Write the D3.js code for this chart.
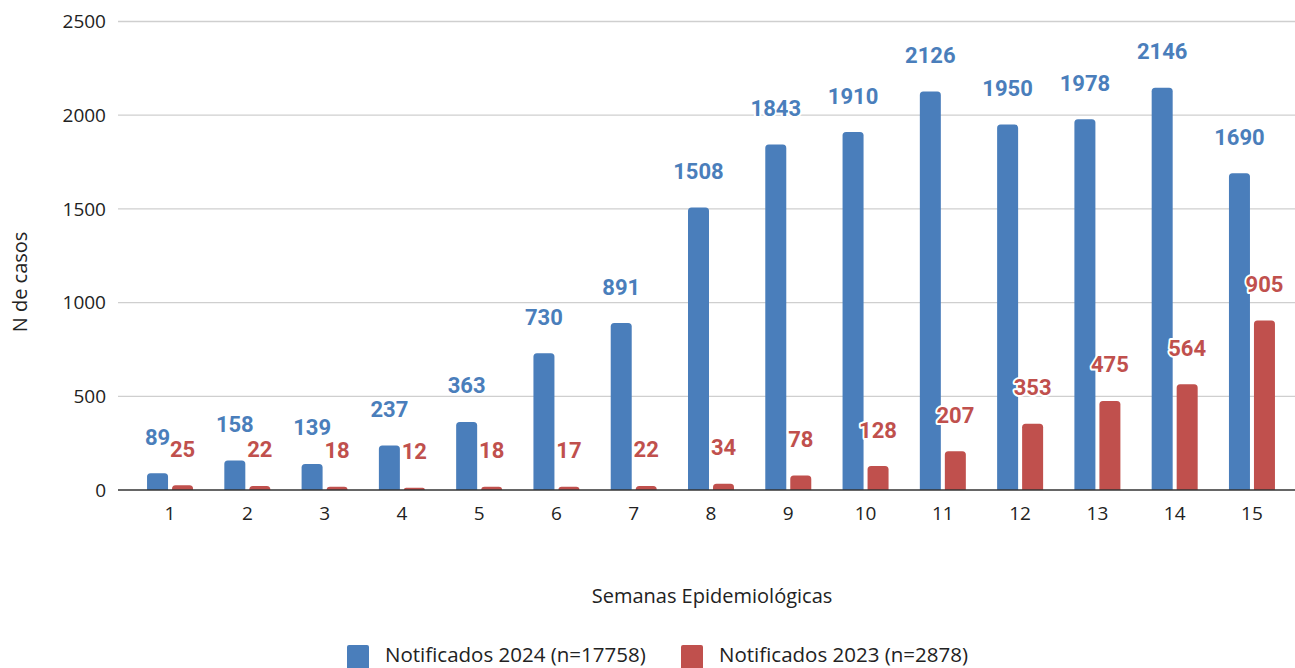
<!DOCTYPE html>
<html><head><meta charset="utf-8">
<script src="https://cdn.jsdelivr.net/npm/d3@7"></script>
<style>
html,body{margin:0;padding:0;background:#fff;}
svg{display:block;}
</style></head>
<body>
<svg id="chart" width="1295" height="668"></svg>
<script>
const weeks = ["1","2","3","4","5","6","7","8","9","10","11","12","13","14","15"];
const values2024 = [89,158,139,237,363,730,891,1508,1843,1910,2126,1950,1978,2146,1690];
const values2023 = [25,22,18,12,18,17,22,34,78,128,207,353,475,564,905];
const seriesNames = ["Notificados 2024 (n=17758)", "Notificados 2023 (n=2878)"];
const yTicks = [0,500,1000,1500,2000,2500];
const colors = ["#4a7ebb", "#c0504d"];

const svg = d3.select("#chart");
const plotL = 118, plotR = 1295, y0 = 490, yTop = 21.5;

const x = d3.scaleBand().domain(weeks).range([131.4, 1290.6]);
const y = d3.scaleLinear().domain([0, 2500]).range([y0, yTop]);
const barW = 21, gap = 4;

// gridlines
svg.append("g").selectAll("line").data(yTicks.filter(t => t > 0)).join("line")
  .attr("x1", plotL).attr("x2", plotR)
  .attr("y1", d => y(d)).attr("y2", d => y(d))
  .attr("stroke", "#cfcfcf").attr("stroke-width", 1.3);

// y tick labels
svg.append("g").selectAll("text").data(yTicks).join("text")
  .attr("x", 106).attr("y", d => y(d)).attr("dy", "0.36em")
  .attr("text-anchor", "end")
  .attr("font-family", "'Open Sans', sans-serif").attr("font-size", 19)
  .attr("fill", "#222").text(d => d);

function topRounded(xp, yp, w, h, r) {
  r = Math.min(r, h, w/2);
  return `M${xp},${yp+h}V${yp+r}Q${xp},${yp} ${xp+r},${yp}H${xp+w-r}Q${xp+w},${yp} ${xp+w},${yp+r}V${yp+h}Z`;
}
const series = [values2024, values2023];
series.forEach((vals, si) => {
  const off = si === 0 ? -(barW + gap/2) : gap/2;
  svg.append("g").selectAll("path").data(vals).join("path")
    .attr("d", (d, i) => {
      const cx = x(weeks[i]) + x.bandwidth()/2;
      return topRounded(cx + off, y(d), barW, y0 - y(d), 3.5);
    })
    .attr("fill", colors[si]);
});

// axis line
svg.append("line").attr("x1", plotL).attr("x2", plotR).attr("y1", y0).attr("y2", y0)
  .attr("stroke", "#333").attr("stroke-width", 1.5);

// data labels
series.forEach((vals, si) => {
  const off = si === 0 ? -(barW/2 + gap/2) : (barW/2 + gap/2);
  svg.append("g").selectAll("text").data(vals).join("text")
    .attr("x", (d, i) => x(weeks[i]) + x.bandwidth()/2 + off)
    .attr("y", d => y(d) - 28.5)
    .attr("text-anchor", "middle")
    .attr("font-family", "Roboto, sans-serif").attr("font-weight", 700).attr("font-size", 22)
    .attr("fill", colors[si])
    .attr("stroke", "#fff").attr("stroke-width", 4).attr("paint-order", "stroke")
    .attr("stroke-linejoin", "round")
    .text(d => d);
});

// x tick labels
svg.append("g").selectAll("text").data(weeks).join("text")
  .attr("x", d => x(d) + x.bandwidth()/2).attr("y", 520)
  .attr("text-anchor", "middle")
  .attr("font-family", "'Open Sans', sans-serif").attr("font-size", 19)
  .attr("fill", "#222").text(d => d);

// axis titles
svg.append("text").attr("x", 712).attr("y", 603).attr("text-anchor", "middle")
  .attr("font-family", "'Open Sans', sans-serif").attr("font-size", 20).attr("fill", "#222")
  .text("Semanas Epidemiológicas");
svg.append("text").attr("transform", "translate(27,282) rotate(-90)").attr("text-anchor", "middle")
  .attr("font-family", "'Open Sans', sans-serif").attr("font-size", 20).attr("fill", "#222")
  .text("N de casos");

// legend
const legendX = [347, 681];
seriesNames.forEach((name, i) => {
  svg.append("path").attr("d", topRounded(legendX[i], 645, 22, 24, 2)).attr("fill", colors[i]);
  svg.append("text").attr("x", legendX[i] + 38).attr("y", 662)
    .attr("font-family", "'Open Sans', sans-serif").attr("font-size", 20.5).attr("fill", "#222")
    .text(name);
});
</script>
</body></html>
